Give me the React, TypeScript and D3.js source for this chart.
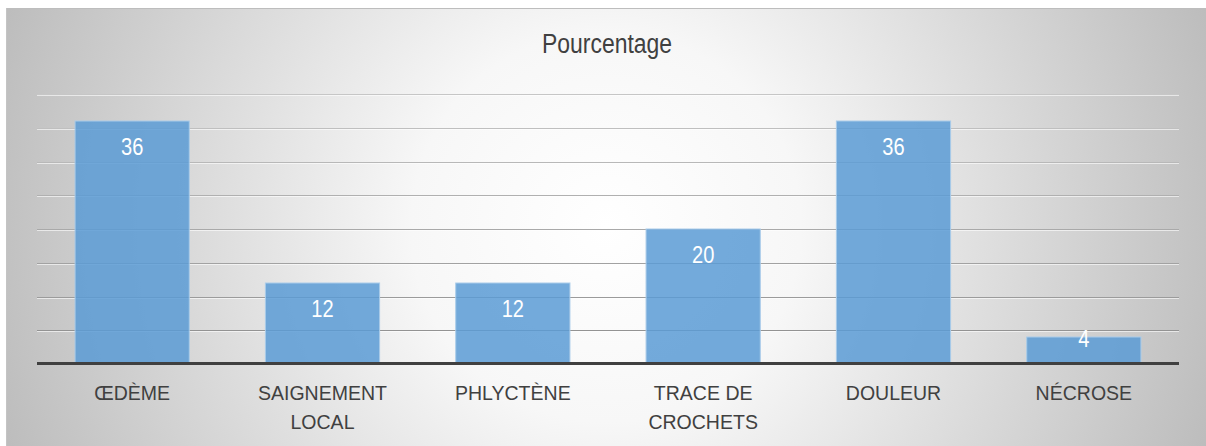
import React from "react";
import * as d3 from "d3";

const title = "Pourcentage";
const categories = ["ŒDÈME", "SAIGNEMENT\nLOCAL", "PHLYCTÈNE", "TRACE DE\nCROCHETS", "DOULEUR", "NÉCROSE"];
const values = [36, 12, 12, 20, 36, 4];
const gridTicks = [5, 10, 15, 20, 25, 30, 35, 40];

const W = 1206;
const H = 446;
const FONT = "'Liberation Sans', Arial, sans-serif";

export default function App() {
  const left = 37, right = 1179, base = 364, top = 94;
  const x = d3.scaleBand<string>().domain(categories).range([left, right]).paddingInner(0.4).paddingOuter(0.2);
  const y = d3.scaleLinear().domain([0, 40]).range([base, top]);
  const gridColor = d3.interpolate("#8c8c8c", "#c6c6c6");
  const cx = (c: string) => x(c)! + x.bandwidth() / 2;

  return (
    <svg width={W} height={H} style={{ position: "absolute", left: 0, top: 0, display: "block" }}>
      <defs>
        <radialGradient id="bg" gradientUnits="userSpaceOnUse" cx={606} cy={227} r={650}>
          <stop offset="0" stopColor="#ffffff" />
          <stop offset="0.3" stopColor="#f7f7f7" />
          <stop offset="1" stopColor="#bbbbbb" />
        </radialGradient>
      </defs>
      <rect x={6} y={8} width={W - 6} height={H - 8} fill="url(#bg)" />
      <line x1={6} x2={W} y1={8.5} y2={8.5} stroke="#bdbdbd" strokeWidth={1} />
      <line x1={6.5} x2={6.5} y1={8} y2={H} stroke="#c4c4c4" strokeWidth={1} />
      <text transform={`translate(607,53) scale(0.85,1)`} textAnchor="middle" fontFamily={FONT} fontSize={27} fill="#404040">{title}</text>
      {gridTicks.map((t) => (
        <g key={t}>
          <line x1={left} x2={right} y1={Math.round(y(t)) + 0.5} y2={Math.round(y(t)) + 0.5} stroke={gridColor(t / 40)} strokeWidth={1} />
          <line x1={left} x2={right} y1={Math.round(y(t)) + 1.5} y2={Math.round(y(t)) + 1.5} stroke="#ffffff" strokeOpacity={0.6} strokeWidth={1} />
        </g>
      ))}
      {categories.map((c, i) => (
        <rect key={c} x={x(c)!} y={y(values[i])} width={x.bandwidth()} height={base - y(values[i])}
          fill="#5b9bd5" fillOpacity={0.85} stroke="#a9cbe9" strokeWidth={1} />
      ))}
      <line x1={left} x2={right} y1={363.5} y2={363.5} stroke="#404040" strokeWidth={3} />
      {categories.map((c, i) => (
        <text key={"l" + c} transform={`translate(${cx(c)},${Math.min(y(values[i]) + 34, base - 17)}) scale(0.82,1)`}
          textAnchor="middle" fontFamily={FONT} fontSize={24.5} fill="#ffffff">{values[i]}</text>
      ))}
      {categories.map((c) => (
        <text key={"c" + c} transform={`translate(${cx(c)},400) scale(0.93,1)`} textAnchor="middle" fontFamily={FONT} fontSize={21} fill="#404040">
          {c.split("\n").map((line, j) => (
            <tspan key={j} x={0} dy={j === 0 ? 0 : 29}>{line}</tspan>
          ))}
        </text>
      ))}
    </svg>
  );
}
